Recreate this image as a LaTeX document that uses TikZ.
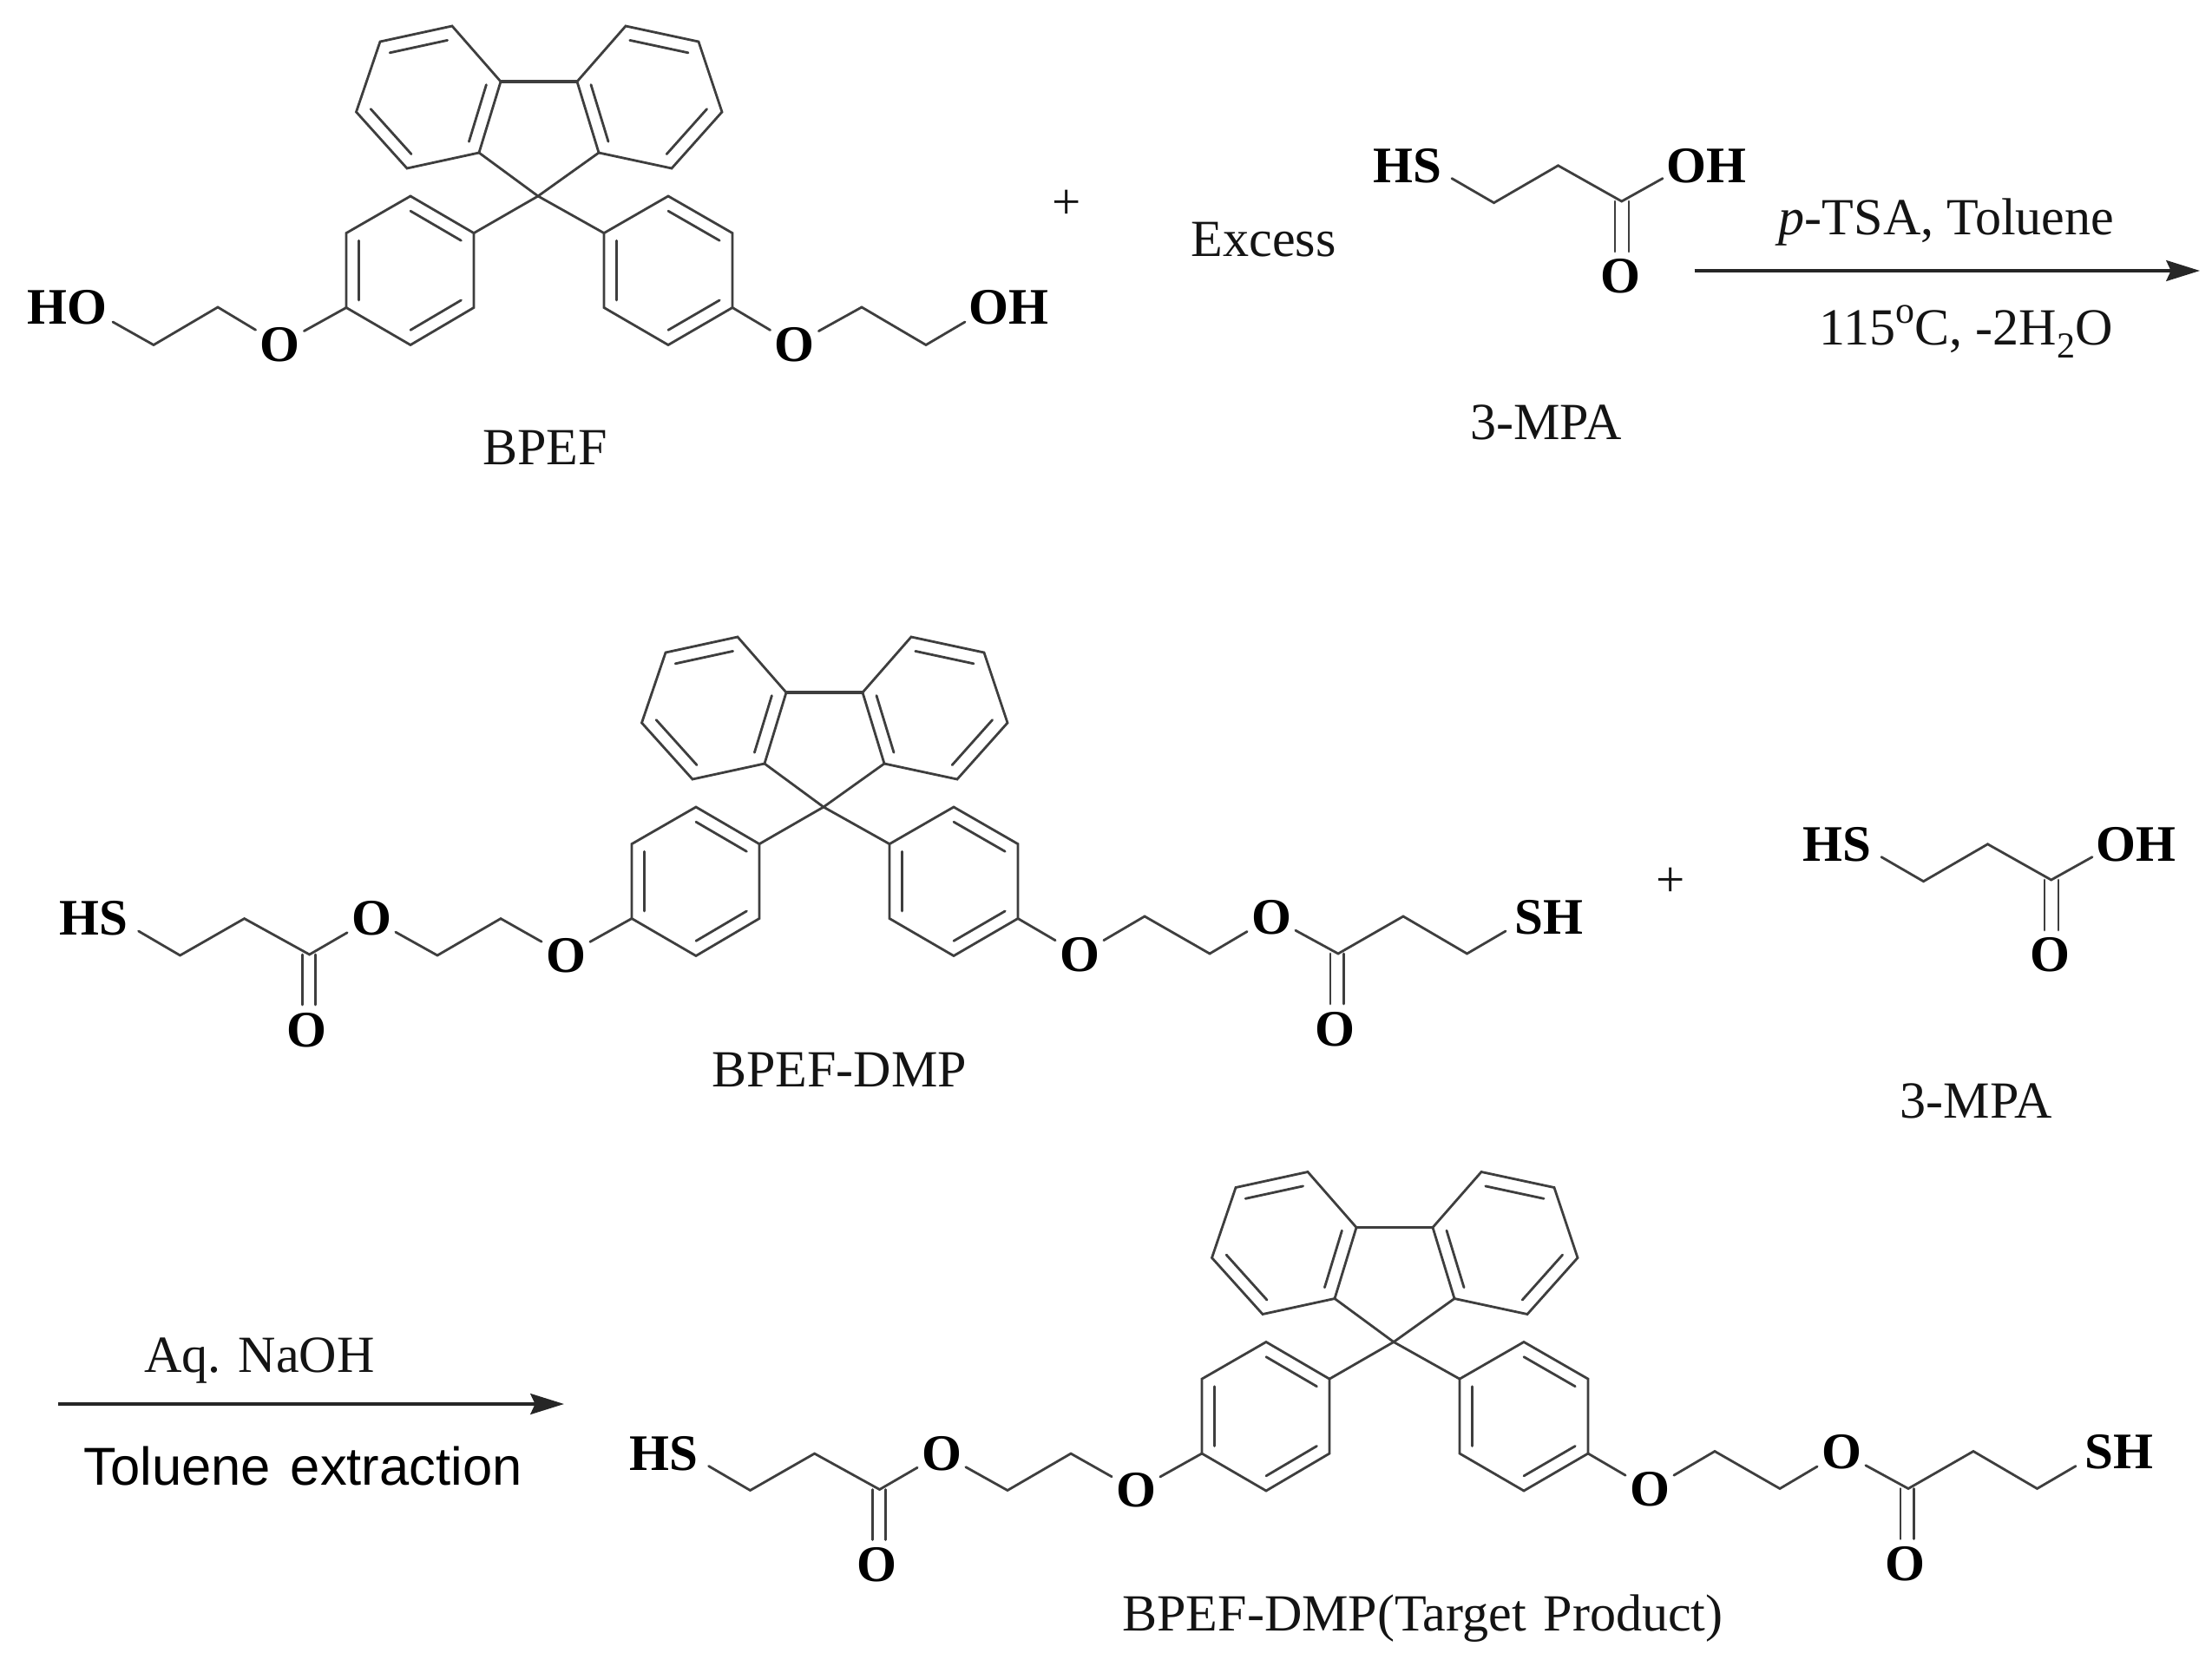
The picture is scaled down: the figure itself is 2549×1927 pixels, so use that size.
\documentclass[tikz,border=0pt]{standalone}
\usepackage{fontspec}
\setmainfont{Liberation Serif}
\newfontfamily\sansf{Liberation Sans}
\usetikzlibrary{arrows.meta,calc}
\definecolor{bondgrey}{HTML}{3E3E3E}
\definecolor{inkc}{HTML}{141414}
\newcommand{\bigf}{\fontsize{33.6}{40}\selectfont}
\newcommand{\labf}{\fontsize{34.2}{40}\selectfont}
\tikzset{
  bond/.style={draw=bondgrey,line width=1.6pt,line cap=round,line join=miter},
  hbond/.style={draw=bondgrey,line width=1.9pt},
  atom/.style={font=\bfseries\bigf,text=black,inner ysep=0pt,inner xsep=2.6pt},
  lab/.style={anchor=base,inner sep=0pt,font=\labf,text=inkc},
  plussign/.style={inner sep=0pt,font=\bigf,text=inkc},
  rxn/.style={draw=black!85,line width=2.4pt,-{Stealth[length=22pt,width=13.5pt,inset=3pt]}},
}
% inner line of an aromatic double bond: ring centre, two vertices
\newcommand{\innerbond}[3]{\draw[bond] ($(#1)!0.8!(#2)$) -- ($(#1)!0.8!(#3)$);}
% 9,9-diphenylfluorene core
\newcommand{\fcore}[3]{%
\begin{scope}[shift={(#2,#3)},name prefix=#1-]
  \coordinate (c9) at (620,226);
  \coordinate (la) at (552,176); \coordinate (lb) at (577,94);
  \coordinate (lc) at (521,30);  \coordinate (ld) at (438,48);
  \coordinate (le) at (410.5,129); \coordinate (lf) at (469,194);
  \coordinate (lm) at (494,112);
  \coordinate (ra) at (690,176); \coordinate (rb) at (665,94);
  \coordinate (rc) at (721,30);  \coordinate (rd) at (805,48);
  \coordinate (re) at (832,129); \coordinate (rf) at (774,194);
  \coordinate (rm) at (745,112);
  \coordinate (p1) at (546,268.6); \coordinate (p2) at (473,226);
  \coordinate (p3) at (399,268.6); \coordinate (p4) at (399,354.5);
  \coordinate (p5) at (473,397.5); \coordinate (p6) at (546,354.5);
  \coordinate (pm) at (473,311.8);
  \coordinate (q1) at (696,268.6); \coordinate (q2) at (770,226);
  \coordinate (q3) at (844,268.6); \coordinate (q4) at (844,354.5);
  \coordinate (q5) at (770,397.5); \coordinate (q6) at (696,354.5);
  \coordinate (qm) at (770,311.8);
  \draw[bond] (la)--(lb)--(lc)--(ld)--(le)--(lf)--cycle;
  \draw[bond] (ra)--(rb)--(rc)--(rd)--(re)--(rf)--cycle;
  \draw[hbond] (lb)--(rb);
  \draw[bond] (la)--(c9)--(ra);
  \draw[bond] (p1)--(c9)--(q1);
  \draw[bond] (p1)--(p2)--(p3)--(p4)--(p5)--(p6)--cycle;
  \draw[bond] (q1)--(q2)--(q3)--(q4)--(q5)--(q6)--cycle;
  \innerbond{lm}{la}{lb}\innerbond{lm}{lc}{ld}\innerbond{lm}{le}{lf}
  \innerbond{rm}{ra}{rb}\innerbond{rm}{rc}{rd}\innerbond{rm}{re}{rf}
  \innerbond{pm}{p1}{p2}\innerbond{pm}{p3}{p4}\innerbond{pm}{p5}{p6}
  \innerbond{qm}{q2}{q3}\innerbond{qm}{q1}{q6}\innerbond{qm}{q4}{q5}
\end{scope}}
% 3-mercaptopropionic acid
\newcommand{\mpa}[3]{%
\begin{scope}[shift={(#2,#3)},name prefix=#1-]
  \node[atom] (hs) at (1622,191.4) {HS};
  \node[atom] (oh) at (1966,191.4) {OH};
  \node[atom] (ox) at (1867,318) {O};
  \coordinate (s0) at (1673,205.6); \coordinate (a1) at (1721.5,233.7);
  \coordinate (a2) at (1795.5,190.8); \coordinate (a3) at (1868.7,232);
  \coordinate (s1) at (1916,205.6);
  \coordinate (d1) at (1861,232); \coordinate (d2) at (1861,290);
  \coordinate (d3) at (1877,232); \coordinate (d4) at (1877,290);
  \draw[bond] (s0)--(a1)--(a2)--(a3)--(s1);
  \draw[bond] (d1)--(d2) (d3)--(d4);
\end{scope}}
% BPEF-DMP, in the coordinates of the middle row
\newcommand{\dmp}[3]{%
\fcore{#1c}{#2+329}{#3+704}
\begin{scope}[shift={(#2,#3)},name prefix=#1-]
  \node[atom] (hs) at (108,1058.6) {HS};
  \node[atom] (o2) at (428,1058.6) {O};
  \node[atom] (o1) at (652,1101) {O};
  \node[atom] (ox) at (353,1187) {O};
  \coordinate (s0) at (159.6,1073); \coordinate (a1) at (207.5,1101);
  \coordinate (a2) at (281.6,1058.6); \coordinate (cc) at (356.6,1100);
  \coordinate (a3) at (504,1101); \coordinate (a4) at (577,1058.6);
  \coordinate (d1) at (348.6,1100); \coordinate (d2) at (348.6,1158);
  \coordinate (d3) at (363.5,1100); \coordinate (d4) at (363.5,1158);
  \node[atom] (sh) at (1785,1057) {SH};
  \node[atom] (o3) at (1465,1057) {O};
  \node[atom] (o4) at (1244,1100) {O};
  \node[atom] (oy) at (1538,1186) {O};
  \coordinate (b1) at (1319,1056); \coordinate (b2) at (1394,1099);
  \coordinate (cd) at (1542,1099); \coordinate (b3) at (1617,1056);
  \coordinate (b4) at (1690.5,1099); \coordinate (s1) at (1735,1073);
  \coordinate (e1) at (1533,1099); \coordinate (e2) at (1533,1157);
  \coordinate (e3) at (1548.5,1099); \coordinate (e4) at (1548.5,1157);
  \draw[bond] (s0)--(a1)--(a2)--(cc)--(o2)--(a3)--(a4)--(o1)--(#1c-p4);
  \draw[bond] (d1)--(d2) (d3)--(d4);
  \draw[bond] (#1c-q4)--(o4)--(b1)--(b2)--(o3)--(cd)--(b3)--(b4)--(s1);
  \draw[bond] (e1)--(e2) (e3)--(e4);
\end{scope}}
\begin{document}
\begin{tikzpicture}[x=0.02cm,y=-0.02cm]
  \path[fill=white,use as bounding box] (0,0) rectangle (2549,1927);

  % ---- top row
  \fcore{ma}{0}{0}
  \node[atom] (ho) at (77,354.5) {HO};
  \node[atom] (oa) at (322.5,397) {O};
  \node[atom] (ob) at (915.5,397) {O};
  \node[atom] (oh) at (1162,354.5) {OH};
  \coordinate (h0) at (130,371); \coordinate (h1) at (177,397.5);
  \coordinate (h2) at (251,354);
  \coordinate (i1) at (993,354); \coordinate (i2) at (1067,397.5);
  \coordinate (i3) at (1112,371);
  \draw[bond] (h0)--(h1)--(h2)--(oa)--(ma-p4);
  \draw[bond] (ma-q4)--(ob)--(i1)--(i2)--(i3);
  \node[lab] (bpef) at (628,535.5) {BPEF};
  \node[plussign] (plus1) at (1229,236) {+};
  \node[lab] (excess) at (1456,295) {Excess};
  \mpa{mb}{0}{0}
  \node[lab] (mpa1) at (1781.5,506.5) {3-MPA};
  \coordinate (r1s) at (1952.5,312); \coordinate (r1e) at (2535,312);
  \draw[rxn] (r1s) -- (r1e);
  \node[lab] (cond1) at (2243,270) {\textit{p}-TSA, Toluene};
  \node[lab] (cond2) at (2265.5,397) {115\raisebox{0.4em}{\fontsize{25}{25}\selectfont o}C, -2H\raisebox{-0.25em}{\fontsize{24}{24}\selectfont 2}O};

  % ---- middle row
  \dmp{mc}{0}{0}
  \node[lab] (dmp1) at (967,1252) {BPEF-DMP};
  \node[plussign] (plus2) at (1925,1017) {+};
  \mpa{md}{495}{782}
  \node[lab] (mpa2) at (2277,1288) {3-MPA};

  % ---- bottom row
  \coordinate (r2s) at (67,1618); \coordinate (r2e) at (650,1618);
  \draw[rxn] (r2s) -- (r2e);
  \node[lab] (cond3) at (299,1581.5) {Aq. NaOH};
  \node[lab,font=\sansf\fontsize{35}{40}\selectfont,text=black] (cond4) at (349,1711.5) {Toluene\hspace{0.1em} extraction};
  \dmp{me}{657}{616.5}
  \node[lab] (dmp2) at (1639.5,1879) {BPEF-DMP(Target\hspace{0.08em} Product)};
\end{tikzpicture}
\end{document}
